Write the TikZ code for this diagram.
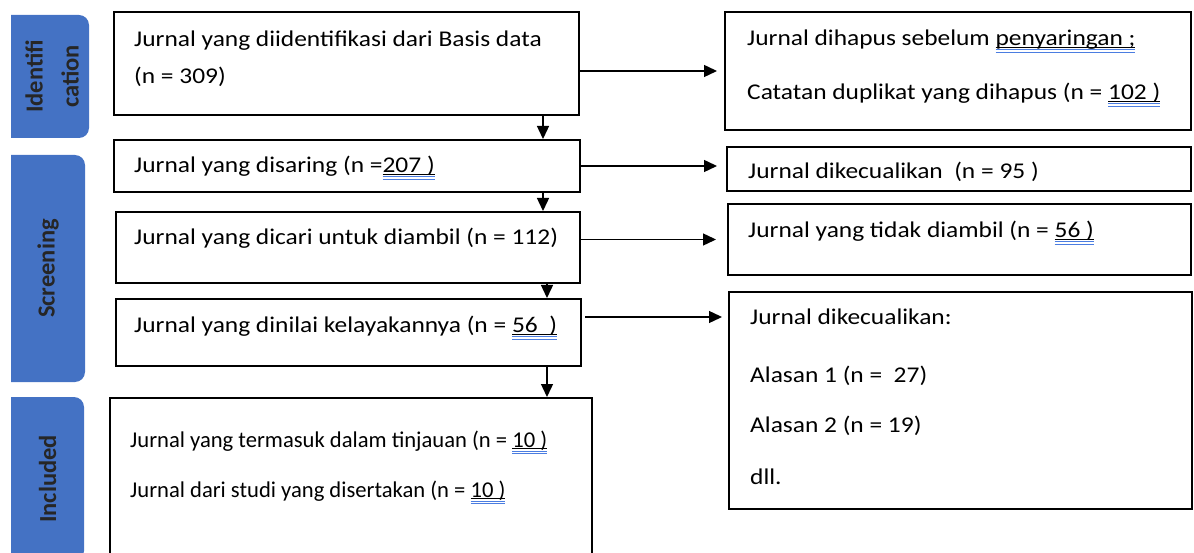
\documentclass[tikz,border=0pt]{standalone}
\usepackage{fontspec}
\setmainfont{Carlito}
\newfontfamily\widefont{Carlito}[FakeStretch=1.13]
\usetikzlibrary{arrows.meta}
\usepackage{xcolor}
\definecolor{stageblue}{HTML}{4472C4}
\definecolor{markblue}{RGB}{75,125,225}
% 拼写检查式的双下划线
\newsavebox\wulbox
\newcommand{\wul}[1]{\sbox\wulbox{#1}%
  \rlap{\rule[-2pt]{\wd\wulbox}{0.8pt}}%
  \rlap{\color{markblue}\rule[-4.5pt]{\wd\wulbox}{1pt}}%
  \rlap{\color{markblue}\rule[-7pt]{\wd\wulbox}{1pt}}%
  \usebox\wulbox}

\begin{document}
\begin{tikzpicture}[x=1pt, y=-1pt]
        % ================= 样式定义 =================
        \tikzset{
            box/.style={draw=black, line width=2pt, inner sep=0pt},
            txt/.style={anchor=base west, inner sep=0pt, font=\widefont\fontsize{22.5}{27}\selectfont},
            txtb/.style={anchor=base west, inner sep=0pt, font=\fontsize{22.6}{27}\selectfont},
            stage/.style={rotate=90, align=center, text=black!85, font=\bfseries\fontsize{24.5}{36}\selectfont},
            flow/.style={line width=1.4pt, -{Triangle[length=13pt, width=12pt]}}
        }
        \clip (0,0) rectangle (1194,553);

        % ================= 左侧:阶段标签 =================
        \begin{scope}
            \clip (11,0) rectangle (100,553);
            \fill[stageblue, rounded corners=10pt] (-10,15)  rectangle (89,138);
            \fill[stageblue, rounded corners=10pt] (-10,155) rectangle (85,382);
            \fill[stageblue, rounded corners=10pt] (-10,397) rectangle (84,561);
        \end{scope}
        \node[stage] (s1) at (52,76.5)  {Identifi\\cation};
        \node[stage] (s2) at (48,268.5) {Screening};
        \node[stage] (s3) at (47.5,479) {Included};

        % ================= 中间:主流程框 =================
        \node[box, minimum width=465, minimum height=103] (b1) at (346.5,63.5) {};
        \node[box, minimum width=466, minimum height=52]  (b2) at (347,166)    {};
        \node[box, minimum width=464, minimum height=71]  (b3) at (348,247.5)  {};
        \node[box, minimum width=465, minimum height=67]  (b4) at (348.5,332.5) {};
        \node[box, minimum width=482, minimum height=167] (b5) at (351,481.5)  {};

        \node[txt]  (t1a) at (134,47)  {Jurnal yang diidentifikasi dari Basis data};
        \node[txt]  (t1b) at (134,84)  {(n = 309)};
        \node[txt]  (t2)  at (134,173) {Jurnal yang disaring (n =\wul{207 )}};
        \node[txt]  (t3)  at (134,245) {Jurnal yang dicari untuk diambil (n = 112)};
        \node[txt]  (t4)  at (134,333) {Jurnal yang dinilai kelayakannya (n = \wul{56\ \ )}};
        \node[txtb] (t5a) at (130,447) {Jurnal yang termasuk dalam tinjauan (n = \wul{10 )}};
        \node[txtb] (t5b) at (130,497) {Jurnal dari studi yang disertakan (n = \wul{10 )}};

        % ================= 右侧:排除框 =================
        \node[box, minimum width=466, minimum height=118] (r1) at (958,71)     {};
        \node[box, minimum width=464, minimum height=44]  (r2) at (959,169)    {};
        \node[box, minimum width=463, minimum height=71]  (r3) at (959.5,239.5) {};
        \node[box, minimum width=463, minimum height=217] (r4) at (960.5,400.5) {};

        \node[txt] (q1a) at (747,46)  {Jurnal dihapus sebelum \wul{penyaringan ;}};
        \node[txt] (q1b) at (747,100) {Catatan duplikat yang dihapus (n = \wul{102 )}};
        \node[txt] (q2)  at (748,179) {Jurnal dikecualikan\ \ (n = 95 )};
        \node[txt] (q3)  at (748,238) {Jurnal yang tidak diambil (n = \wul{56 )}};
        \node[txt] (q4a) at (750,325) {Jurnal dikecualikan:};
        \node[txt] (q4b) at (750,382) {Alasan 1 (n =\ \ 27)};
        \node[txt] (q4c) at (750,432) {Alasan 2 (n = 19)};
        \node[txt] (q4d) at (750,484) {dll.};

        % ================= 连线 =================
        % 1. 竖直箭头
        \coordinate (c1) at (543,0);
        \coordinate (c2) at (547,0);
        \draw[flow] (b1.south -| c1) -- (b2.north -| c1);
        \draw[flow] (b2.south -| c1) -- (b3.north -| c1);
        \draw[flow] (b3.south -| c2) -- (b4.north -| c2);
        \draw[flow] (b4.south -| c2) -- (b5.north -| c2);

        % 2. 水平箭头
        \coordinate (k4) at (585,317);
        \draw[flow, shorten >=7pt]  (b1.east |- r1.west) -- (r1.west);
        \draw[flow, shorten >=9pt]  (b2.east) -- (b2.east -| r2.west);
        \draw[flow, shorten >=11pt] (b3.east |- r3.west) -- (r3.west);
        \draw[flow, shorten >=6pt]  (k4) -- (k4 -| r4.west);

\end{tikzpicture}
\end{document}
